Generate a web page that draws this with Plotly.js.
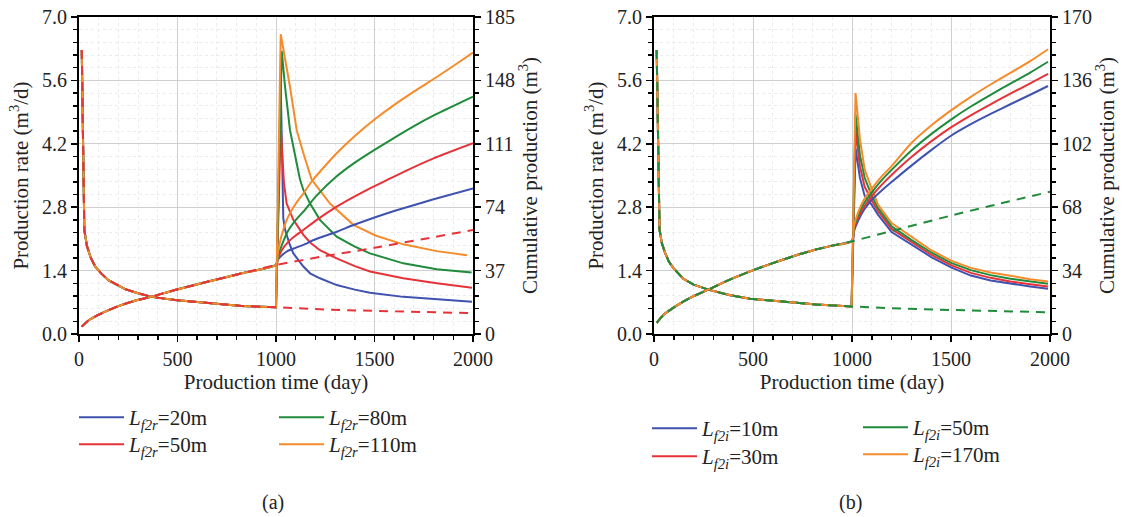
<!DOCTYPE html>
<html>
<head>
<meta charset="utf-8">
<script src="https://cdn.plot.ly/plotly-3.0.1.min.js"></script>
<style>html,body{margin:0;padding:0;background:#fff}#chart{width:1126px;height:517px}</style>
</head>
<body>
<div id="chart"></div>
<script>
// ---------------- DATA ----------------
// Panel (a): shared curve before refracturing (day, m3/d) and (day, m3)
const aTimeRatePre = [14, 27, 40, 60, 81, 110, 149, 190, 234, 300, 369, 487, 656, 826, 1000];
const aRatePre     = [6.27, 2.3, 1.95, 1.68, 1.5, 1.35, 1.19, 1.1, 0.99, 0.9, 0.82, 0.75, 0.68, 0.62, 0.59];
const aTimeCumPre  = [14, 50, 98, 150, 200, 280, 369, 487, 656, 826, 1000];
const aCumPre      = [4.3, 8, 11.1, 13.9, 16.3, 19.3, 21.8, 25.7, 30.6, 35.4, 40.3];
// Panel (a): base case after day 1000 (dashed)
const aBaseTimeRate = [1250, 1500, 1750, 2000];
const aBaseRate     = [0.54, 0.51, 0.485, 0.46];
const aBaseTimeCum  = [1250, 1500, 1750, 2000];
const aBaseCum      = [45.5, 50.3, 55.5, 60.7];
// Panel (a): refractured cases after day 1000
const aLabels = ['<i>L</i><sub><i>f2r</i></sub>=20m', '<i>L</i><sub><i>f2r</i></sub>=50m',
                 '<i>L</i><sub><i>f2r</i></sub>=80m', '<i>L</i><sub><i>f2r</i></sub>=110m'];
const aBlueTimeRate   = [1024, 1037, 1046, 1071, 1088, 1139, 1173, 1223, 1308, 1400, 1477, 1646, 1816, 1995];
const aBlueRate       = [5.5, 2.55, 2.3, 1.96, 1.78, 1.49, 1.34, 1.23, 1.08, 0.98, 0.91, 0.82, 0.77, 0.71];
const aRedTimeRate    = [1024, 1040, 1054, 1088, 1139, 1173, 1223, 1308, 1400, 1477, 1646, 1816, 1995];
const aRedRate        = [4.6, 3.35, 2.88, 2.52, 2.19, 2.02, 1.85, 1.67, 1.5, 1.38, 1.23, 1.12, 1.02];
const aGreenTimeRate  = [1029, 1046, 1071, 1105, 1122, 1139, 1173, 1223, 1308, 1400, 1477, 1646, 1816, 1993];
const aGreenRate      = [6.25, 5.46, 4.5, 3.77, 3.41, 3.18, 2.88, 2.52, 2.15, 1.93, 1.78, 1.56, 1.43, 1.36];
const aOrangeTimeRate = [1024, 1071, 1105, 1139, 1181, 1274, 1393, 1508, 1646, 1816, 1970];
const aOrangeRate     = [6.62, 5.46, 4.5, 3.99, 3.41, 2.88, 2.41, 2.17, 1.98, 1.83, 1.74];
const aBlueTimeCum    = [1010, 1030, 1060, 1100, 1139, 1200, 1308, 1393, 1500, 1612, 1800, 2000];
const aBlueCum        = [43.5, 46, 48.5, 50.3, 52, 55.3, 59.7, 63.6, 68, 72.2, 78.6, 85];
const aRedTimeCum     = [1010, 1030, 1060, 1100, 1139, 1200, 1308, 1400, 1477, 1550, 1646, 1800, 2000];
const aRedCum         = [44, 49, 53.5, 57.5, 60.7, 66, 74.3, 80.3, 85, 89.1, 94.5, 102.5, 111.3];
const aGreenTimeCum   = [1010, 1030, 1060, 1100, 1139, 1200, 1308, 1400, 1500, 1596, 1700, 1816, 2000];
const aGreenCum       = [45.5, 52, 60, 66.5, 71.4, 80, 92, 100, 107.5, 114.2, 121.3, 128.4, 138.5];
const aOrangeTimeCum  = [1010, 1025, 1054, 1100, 1139, 1181, 1223, 1308, 1400, 1508, 1604, 1700, 1816, 1900, 2000];
const aOrangeCum      = [48, 56, 66.5, 76, 82, 89, 94.7, 105.5, 115.6, 125.9, 134, 141.4, 150, 156.4, 164.3];

// Panel (b)
const bTimeRatePre = [13.5, 28, 40, 56, 75, 97, 148, 200, 274, 380, 485, 653, 821, 998];
const bRatePre     = [6.27, 2.3, 2.0, 1.79, 1.6, 1.46, 1.22, 1.09, 0.98, 0.86, 0.78, 0.71, 0.65, 0.61];
const bTimeCumPre  = [13.5, 50, 97, 150, 198, 274, 380, 485, 600, 700, 800, 900, 1000];
const bCumPre      = [6, 10.5, 14, 17.5, 20.2, 23.8, 29, 33.6, 38, 41.6, 44.8, 47.4, 49.7];
const bBaseTimeRate = [1250, 1500, 1750, 2000];
const bBaseRate     = [0.56, 0.53, 0.5, 0.48];
const bBaseTimeCum  = [1250, 1500, 1750, 2000];
const bBaseCum      = [56.6, 63.5, 70, 76.3];
const bLabels = ['<i>L</i><sub><i>f2i</i></sub>=10m', '<i>L</i><sub><i>f2i</i></sub>=30m',
                 '<i>L</i><sub><i>f2i</i></sub>=50m', '<i>L</i><sub><i>f2i</i></sub>=170m'];
const bTimeRatePost = [1018, 1040, 1064, 1100, 1132, 1200, 1300, 1400, 1500, 1600, 1700, 1800, 1900, 1990];
const bBlueRate   = [4.1, 3.45, 3.05, 2.85, 2.63, 2.25, 1.97, 1.7, 1.47, 1.29, 1.18, 1.11, 1.05, 1.0];
const bRedRate    = [4.5, 3.7, 3.25, 2.95, 2.71, 2.32, 2.03, 1.75, 1.52, 1.35, 1.24, 1.16, 1.1, 1.05];
const bGreenRate  = [4.85, 3.95, 3.45, 3.05, 2.78, 2.38, 2.08, 1.8, 1.57, 1.41, 1.3, 1.22, 1.16, 1.11];
const bOrangeRate = [5.32, 4.3, 3.63, 3.2, 2.85, 2.45, 2.14, 1.85, 1.62, 1.46, 1.36, 1.28, 1.21, 1.16];
const bTimeCumPost = [1010, 1030, 1060, 1100, 1150, 1200, 1300, 1400, 1500, 1600, 1700, 1800, 1900, 1990];
const bBlueCum   = [55, 60.5, 66.5, 72, 77, 81.5, 90.3, 98.6, 106.3, 112.5, 118, 123.2, 128.3, 133];
const bRedCum    = [56, 62, 68, 74, 80, 85.3, 94.9, 103.3, 110.8, 117.3, 123.2, 128.9, 134.4, 139.5];
const bGreenCum  = [57, 63.5, 70, 76, 82.5, 88, 98.4, 107.2, 115, 122, 128.3, 134.3, 140.2, 146];
const bOrangeCum = [58, 65, 72, 78, 84.5, 90, 102.4, 111.8, 119.9, 127.2, 133.8, 140, 146.3, 152.7];

// ---------------- STYLE ----------------
const FONT = 'Liberation Serif';
const C = {blue: '#4052b0', red: '#e63339', green: '#1f8b3b', orange: '#f68b2c'};
const LW = 2;

function tr(x, y, xa, ya, color, dash, name, legend, show, smooth) {
  const ln = {color: color, width: LW, dash: dash || 'solid'};
  if (smooth) { ln.shape = 'spline'; ln.smoothing = 0.5; }
  return {type: 'scatter', mode: 'lines', x: x, y: y, xaxis: xa, yaxis: ya,
    line: ln, name: name || '',
    showlegend: !!show, legend: legend || 'legend', hoverinfo: 'skip'};
}
const cat = (a, b) => a.concat(b);

const traces = [];
// panel a
const aSeries = [
  [C.blue, aBlueTimeRate, aBlueRate, aBlueTimeCum, aBlueCum, 'legend'],
  [C.red, aRedTimeRate, aRedRate, aRedTimeCum, aRedCum, 'legend2'],
  [C.green, aGreenTimeRate, aGreenRate, aGreenTimeCum, aGreenCum, 'legend3'],
  [C.orange, aOrangeTimeRate, aOrangeRate, aOrangeTimeCum, aOrangeCum, 'legend4']];
aSeries.forEach((s, i) => {
  traces.push(tr(cat(aTimeRatePre, s[1]), cat(aRatePre, s[2]), 'x', 'y', s[0], 'solid', aLabels[i], s[5], true));
});
traces.push(tr(cat(aTimeRatePre, aBaseTimeRate), cat(aRatePre, aBaseRate), 'x', 'y', C.red, '9px,7px'));
aSeries.forEach((s) => {
  traces.push(tr(cat(aTimeCumPre, s[3]), cat(aCumPre, s[4]), 'x', 'y2', s[0], 'solid', '', '', false, true));
});
traces.push(tr(cat(aTimeCumPre, aBaseTimeCum), cat(aCumPre, aBaseCum), 'x', 'y2', C.red, '9px,7px', '', '', false, true));

// panel b
const bSeries = [
  [C.blue, bBlueRate, bBlueCum, 'legend5'],
  [C.red, bRedRate, bRedCum, 'legend6'],
  [C.green, bGreenRate, bGreenCum, 'legend7'],
  [C.orange, bOrangeRate, bOrangeCum, 'legend8']];
bSeries.forEach((s, i) => {
  traces.push(tr(cat(bTimeRatePre, bTimeRatePost), cat(bRatePre, s[1]), 'x2', 'y3', s[0], 'solid', bLabels[i], s[3], true));
});
traces.push(tr(cat(bTimeRatePre, bBaseTimeRate), cat(bRatePre, bBaseRate), 'x2', 'y3', C.green, '9px,7px'));
bSeries.forEach((s) => {
  traces.push(tr(cat(bTimeCumPre, bTimeCumPost), cat(bCumPre, s[2]), 'x2', 'y4', s[0], 'solid', '', '', false, true));
});
traces.push(tr(cat(bTimeCumPre, bBaseTimeCum), cat(bCumPre, bBaseCum), 'x2', 'y4', C.green, '9px,7px', '', '', false, true));

// ---------------- LAYOUT ----------------
const M = {l: 79, r: 76, t: 17, b: 183};
const PW = 1126 - M.l - M.r, PH = 517 - M.t - M.b;
const px = (v) => (v - M.l) / PW;
const py = (v) => (517 - M.b - v) / PH;

const tickFont = {family: FONT, size: 20, color: '#222'};
const titleFont = {family: FONT, size: 21, color: '#222'};
function xAxis(domain, anchor) {
  return {domain: domain, anchor: anchor, range: [0, 2000], tickvals: [0, 500, 1000, 1500, 2000],
    ticks: 'outside', ticklen: 6, tickwidth: 1.5, tickcolor: '#000',
    showline: true, linecolor: '#000', linewidth: 2, mirror: true,
    showgrid: true, gridcolor: '#cfcfcf', gridwidth: 1, zeroline: false,
    minor: {dtick: 100, ticks: 'outside', ticklen: 4, tickcolor: '#000', showgrid: true, gridcolor: '#ececec', griddash: 'dot'},
    tickfont: tickFont, title: {text: 'Production time (day)', font: titleFont, standoff: 0}};
}
function yLeft(anchor) {
  return {domain: [0, 1], anchor: anchor, range: [0, 7], tickvals: [0, 1.4, 2.8, 4.2, 5.6, 7], tickformat: '.1f',
    ticks: 'outside', ticklen: 6, tickwidth: 1.5, tickcolor: '#000',
    showline: true, linecolor: '#000', linewidth: 2, showgrid: true, gridcolor: '#cfcfcf', zeroline: false,
    minor: {dtick: 0.28, ticks: 'outside', ticklen: 4, tickcolor: '#000', showgrid: true, gridcolor: '#ececec', griddash: 'dot'},
    tickfont: tickFont, title: {text: 'Production rate (m<sup>3</sup>/d)', font: titleFont, standoff: 8}};
}
function yRight(anchor, overlay, max, step) {
  const tv = [0, 1, 2, 3, 4, 5].map(k => k * step);
  return {overlaying: overlay, side: 'right', anchor: anchor, range: [0, max], tickvals: tv,
    ticks: 'outside', ticklen: 6, tickwidth: 1.5, tickcolor: '#000',
    showline: true, linecolor: '#000', linewidth: 2, showgrid: false, zeroline: false,
    minor: {dtick: step / 5, ticks: 'outside', ticklen: 4, tickcolor: '#000', showgrid: false},
    tickfont: tickFont, title: {text: 'Cumulative production (m<sup>3</sup>)', font: titleFont, standoff: 6}};
}
function legendAt(x, y) {
  return {x: px(x), y: py(y), xanchor: 'left', yanchor: 'top', orientation: 'v',
    bgcolor: 'rgba(0,0,0,0)', font: {family: FONT, size: 21, color: '#222'},
    itemwidth: 45, tracegroupgap: 0};
}

const layout = {
  width: 1126, height: 517, margin: M, paper_bgcolor: '#fff', plot_bgcolor: '#fff',
  font: {family: FONT, color: '#222'},
  xaxis: xAxis([0, px(473)], 'y'),
  xaxis2: xAxis([px(654), 1], 'y3'),
  yaxis: yLeft('x'),
  yaxis2: yRight('x', 'y', 185, 37),
  yaxis3: yLeft('x2'),
  yaxis4: yRight('x2', 'y3', 170, 34),
  legend:  legendAt(74, 397),
  legend2: legendAt(74, 424),
  legend3: legendAt(274, 397),
  legend4: legendAt(274, 424),
  legend5: legendAt(647, 408),
  legend6: legendAt(647, 436),
  legend7: legendAt(858, 407),
  legend8: legendAt(858, 434),
  annotations: [
    {text: '(a)', x: px(273), y: py(502), xref: 'paper', yref: 'paper', xanchor: 'center', yanchor: 'middle', showarrow: false, font: {family: FONT, size: 20, color: '#222'}},
    {text: '(b)', x: px(850), y: py(502), xref: 'paper', yref: 'paper', xanchor: 'center', yanchor: 'middle', showarrow: false, font: {family: FONT, size: 20, color: '#222'}}
  ]
};

Plotly.newPlot('chart', traces, layout, {staticPlot: true, displayModeBar: false});
</script>
</body>
</html>
